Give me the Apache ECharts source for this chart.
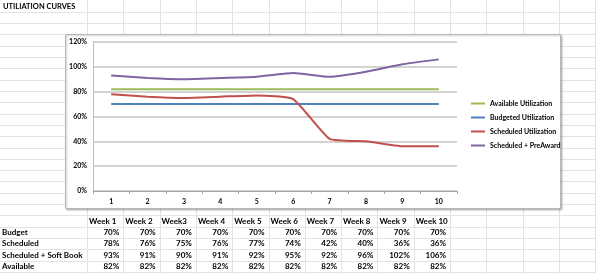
<!DOCTYPE html>
<html>
<head>
<meta charset="utf-8">
<script src="https://cdn.jsdelivr.net/npm/echarts@6/dist/echarts.min.js"></script>
<style>
  html, body { margin: 0; padding: 0; background: #fff; }
  #chart { width: 596px; height: 274px; }
</style>
</head>
<body>
<div id="chart"></div>
<script>
// data read from the sheet
const xLabels = ['1', '2', '3', '4', '5', '6', '7', '8', '9', '10']
const weekHeaders = ['Week 1', 'Week 2', 'Week3', 'Week 4', 'Week 5', 'Week 6', 'Week 7', 'Week 8', 'Week 9', 'Week 10']
const budget = [70, 70, 70, 70, 70, 70, 70, 70, 70, 70]
const scheduled = [78, 76, 75, 76, 77, 74, 42, 40, 36, 36]
const softBook = [93, 91, 90, 91, 92, 95, 92, 96, 102, 106]
const available = [82, 82, 82, 82, 82, 82, 82, 82, 82, 82]
const tableRows = ['Budget', 'Scheduled', 'Scheduled + Soft Book', 'Available']
const tableValues = [budget, scheduled, softBook, available]

const FONT = 'Lato'
const chart = echarts.init(document.getElementById('chart'))

// spreadsheet gridlines
const colW = 36.3
const rowH = 11.31
const colX = [87]
for (let i = 1; i <= 14; i++) colX.push(87 + colW * i)
const rowY = []
for (let i = 1; i <= 24; i++) rowY.push(0.5 + rowH * i)

const graphics = []
colX.forEach(x => {
  graphics.push({
    type: 'line', z: -10, silent: true,
    shape: { x1: Math.round(x) + 0.5, y1: 0, x2: Math.round(x) + 0.5, y2: 274 },
    style: { stroke: '#e3e3e3', lineWidth: 1 }
  })
})
rowY.forEach(y => {
  graphics.push({
    type: 'line', z: -10, silent: true,
    shape: { x1: 0, y1: Math.round(y) + 0.5, x2: 596, y2: Math.round(y) + 0.5 },
    style: { stroke: '#e3e3e3', lineWidth: 1 }
  })
})

// chart box
graphics.push({
  type: 'rect', z: -5, silent: true,
  shape: { x: 65.5, y: 34.5, width: 495, height: 174 },
  style: {
    fill: '#fff', stroke: '#b8b8b8', lineWidth: 1,
    shadowBlur: 2, shadowOffsetX: 1, shadowOffsetY: 1, shadowColor: 'rgba(0,0,0,0.25)'
  }
})

// title
graphics.push({
  type: 'text', left: 3, top: 3,
  style: { text: 'UTILIATION CURVES', font: 'bold 7.5px ' + FONT, fill: '#000' }
})

// table
const headY = 0.5 + rowH * 19
weekHeaders.forEach((h, i) => {
  graphics.push({
    type: 'text', x: colX[i] + 2, y: headY + rowH / 2,
    style: { text: h, font: 'bold 8px ' + FONT, fill: '#000', verticalAlign: 'middle' }
  })
})
tableRows.forEach((name, r) => {
  const cy = headY + rowH * (r + 1) + rowH / 2
  graphics.push({
    type: 'text', x: 2, y: cy,
    style: { text: name, font: 'bold 8px ' + FONT, fill: '#000', verticalAlign: 'middle' }
  })
  tableValues[r].forEach((v, i) => {
    graphics.push({
      type: 'text', x: colX[i + 1] - 4, y: cy,
      style: { text: v + '%', font: 'bold 8px ' + FONT, fill: '#000', align: 'right', verticalAlign: 'middle' }
    })
  })
})

const lineSeries = (name, data, color) => ({
  name,
  type: 'line',
  data,
  smooth: 0.15,
  showSymbol: false,
  symbol: 'none',
  lineStyle: { width: 2, color },
  itemStyle: { color }
})

const option = {
  animation: false,
  textStyle: { fontFamily: FONT },
  grid: { left: 93, top: 42, width: 364, height: 149 },
  legend: {
    orient: 'vertical',
    left: 466,
    top: 94,
    itemWidth: 14,
    itemHeight: 2,
    itemGap: 5,
    icon: 'rect',
    textStyle: { fontSize: 7, fontWeight: 'bold', color: '#000', fontFamily: FONT, lineHeight: 9 },
    data: ['Available Utilization', 'Budgeted Utilization', 'Scheduled Utilization', 'Scheduled + PreAward']
  },
  xAxis: {
    type: 'category',
    data: xLabels,
    boundaryGap: true,
    axisLine: { lineStyle: { color: '#a6a6a6', width: 1 } },
    axisTick: { show: true, length: 3, lineStyle: { color: '#a6a6a6' } },
    axisLabel: { fontSize: 7, fontWeight: 'bold', color: '#000', margin: 7 }
  },
  yAxis: {
    type: 'value',
    min: 0,
    max: 120,
    interval: 20,
    axisLine: { show: true, lineStyle: { color: '#bdbdbd', width: 1 } },
    axisTick: { show: false },
    axisLabel: { formatter: '{value}%', fontSize: 7, fontWeight: 'bold', color: '#000', margin: 6 },
    splitLine: { lineStyle: { color: '#c4c4c4', width: 1.5 } }
  },
  series: [
    lineSeries('Available Utilization', available, '#9bbb59'),
    lineSeries('Budgeted Utilization', budget, '#4f81bd'),
    lineSeries('Scheduled Utilization', scheduled, '#c0504d'),
    lineSeries('Scheduled + PreAward', softBook, '#8064a2')
  ],
  graphic: graphics
}

chart.setOption(option)
</script>
</body>
</html>
